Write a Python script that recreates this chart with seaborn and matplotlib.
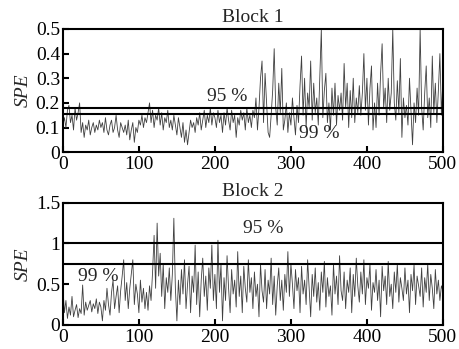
import numpy as np
import matplotlib
matplotlib.use("Agg")
import matplotlib.pyplot as plt
import seaborn as sns
from matplotlib.ticker import FormatStrFormatter

# SPE values (in hundredths), one every 2 samples
spe1_pct = [11, 14, 10, 17, 19, 12, 15, 9, 18, 13, 16,
            20, 8, 12, 6, 11, 9, 13, 7, 10, 12, 8, 11, 9, 13, 10,
            12, 8, 14, 9, 7, 11, 13, 8, 10, 15, 9, 6, 12, 10, 8,
            11, 7, 13, 5, 9, 12, 4, 10, 8, 13, 11, 15, 10, 14, 12,
            16, 20, 12, 17, 10, 15, 13, 18, 11, 16, 9, 14, 12, 17, 10,
            13, 9, 15, 11, 7, 14, 10, 6, 12, 4, 9, 3, 8, 13, 10,
            12, 8, 14, 11, 16, 9, 13, 17, 10, 15, 12, 18, 11, 16, 14,
            10, 17, 12, 15, 8, 16, 11, 18, 13, 9, 17, 12, 15, 6, 14,
            11, 17, 13, 16, 9, 18, 12, 15, 10, 17,
            14, 22, 9, 18, 30, 37, 12, 32, 20, 8,
            6, 15, 25, 42, 18, 11, 28, 16, 34, 9,
            13, 20, 8, 16, 11, 22, 14, 7, 19, 12,
            27, 39, 15, 30, 10, 24, 18, 37, 13, 28,
            16, 22, 11, 30, 50, 14, 25, 32, 12, 20,
            9, 26, 15, 28, 11, 23, 17, 24, 13, 36,
            18, 28, 10, 25, 14, 30, 12, 22, 16, 27,
            15, 24, 40, 17, 30, 11, 26, 35, 9, 20,
            10, 28, 15, 32, 44, 18, 26, 12, 30, 17,
            24, 50, 20, 13, 29, 16, 38, 6, 22, 14,
            19, 11, 30, 16, 3, 20, 12, 26, 15, 50,
            18, 9, 24, 35, 14, 22, 10, 39, 16, 28,
            12, 25, 40, 15, 30]

spe2_pct = [47, 15, 30, 8, 22, 12, 35, 10, 18, 25, 9,
            20, 14, 49, 12, 28, 18, 24, 30, 16, 26, 20, 32, 14, 28, 22,
            5, 30, 18, 45, 25, 12, 40, 55, 20, 35, 48, 15, 42, 60, 80,
            30, 52, 20, 45, 62, 80, 25, 50, 38, 15, 55, 28, 45, 20, 40,
            18, 48, 30, 65, 110, 45, 125, 60, 88, 35, 75, 20, 58, 40, 70,
            30, 62, 131, 45, 5, 55, 25, 68, 38, 80, 20, 50, 72, 15, 60,
            40, 98, 25, 65, 10, 55, 82, 35, 60, 18, 70, 45, 98, 30, 62,
            20, 104, 40, 75, 5, 58, 30, 85, 45, 15, 68, 38, 55, 22, 90,
            35, 60, 15, 72, 45, 28, 80, 40, 58, 20,
            65, 35, 50, 10, 75, 42, 28, 68, 20, 55,
            38, 82, 25, 60, 12, 48, 70, 30, 55, 18,
            62, 40, 90, 35, 75, 50, 20, 68, 42, 58,
            15, 72, 38, 55, 25, 80, 45, 10, 62, 35,
            70, 28, 52, 18, 65, 40, 78, 22, 58, 35,
            48, 12, 75, 38, 60, 25, 85, 42, 30, 65,
            20, 55, 40, 70, 15, 62, 35, 82, 48, 28,
            65, 38, 80, 25, 58, 45, 75, 18, 52, 40,
            68, 30, 55, 10, 72, 42, 60, 25, 78, 35,
            50, 20, 65, 40, 75, 28, 58, 45, 30, 70,
            38, 55, 15, 62, 42, 74, 25, 60, 48, 35,
            70, 22, 58, 40, 75, 30, 62, 45, 20, 68,
            38, 55, 30, 48, 42]

sample = np.arange(0, 501, 2)
spe1 = np.array(spe1_pct) / 100
spe2 = np.array(spe2_pct) / 100

limits1 = [0.178, 0.156]   # 95 %, 99 %
limits2 = [1.0, 0.75]

sns.set_theme(style="ticks")
plt.rcParams['font.family'] = ['Liberation Serif', 'DejaVu Serif']

fig = plt.figure(figsize=(4.59, 3.49), dpi=100)
ax1 = fig.add_axes([0.137, 0.564, 0.828, 0.353])
ax2 = fig.add_axes([0.137, 0.069, 0.828, 0.350])

FS = 14

def draw_block(ax, y, lims, ymax, yticks, title, lab95, lab99):
    sns.lineplot(x=sample, y=y, ax=ax, color='0.25', lw=0.6)
    for v in lims:
        ax.axhline(v, color='black', lw=1.5)
    ax.set_xlim(0, 500)
    ax.set_ylim(0, ymax)
    ax.set_xticks([0, 100, 200, 300, 400, 500])
    ax.set_yticks(yticks)
    ax.yaxis.set_major_formatter(FormatStrFormatter('%g'))
    ax.tick_params(direction='in', length=4, width=1.5, labelsize=FS,
                   colors='black')
    ax.tick_params(axis='x', pad=3)
    ax.tick_params(axis='y', pad=2)
    for s in ax.spines.values():
        s.set_linewidth(1.5)
        s.set_color('black')
    ax.set_title(title, fontsize=FS, pad=5)
    ax.set_ylabel('SPE', fontsize=FS, style='italic', labelpad=3)
    ax.set_xlabel('')
    ax.text(lab95[0], lab95[1], '95 %', fontsize=FS, ha='center', va='center')
    ax.text(lab99[0], lab99[1], '99 %', fontsize=FS, ha='center', va='center')

draw_block(ax1, spe1, limits1, 0.5, [0, 0.1, 0.2, 0.3, 0.4, 0.5], 'Block 1',
           (216, 0.225), (337, 0.077))
draw_block(ax2, spe2, limits2, 1.5, [0, 0.5, 1, 1.5], 'Block 2',
           (264, 1.18), (47, 0.60))

fig.savefig('out.png', dpi=100)
